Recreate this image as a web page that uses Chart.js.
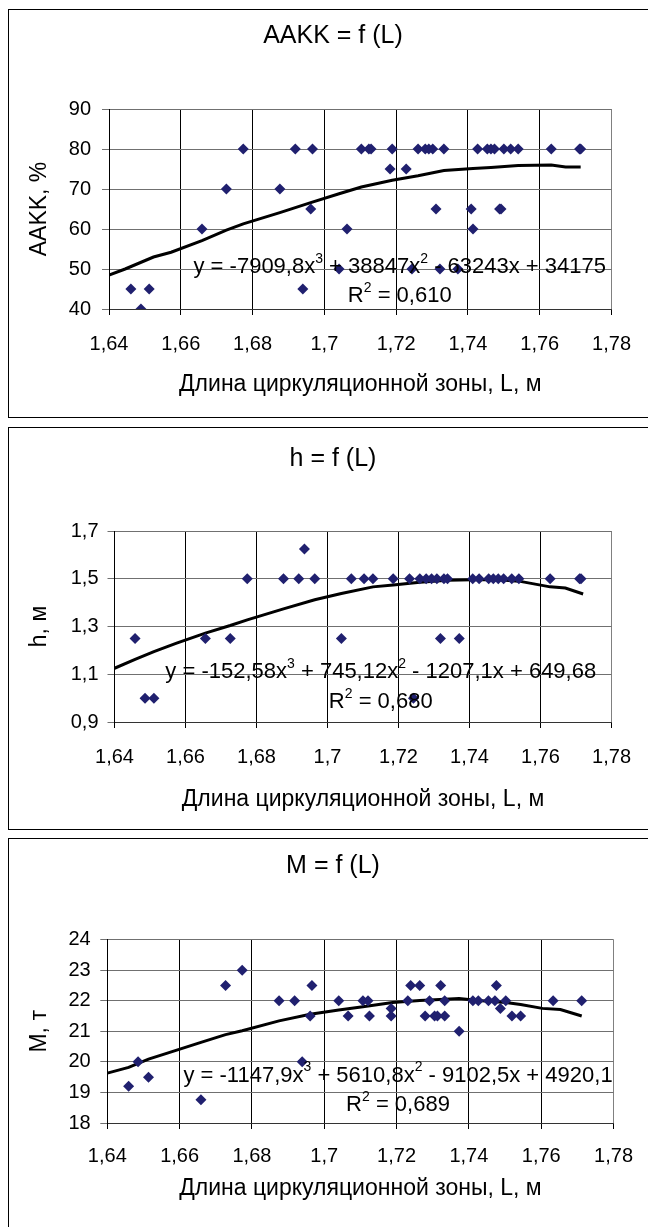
<!DOCTYPE html>
<html><head><meta charset="utf-8">
<script src="https://cdn.jsdelivr.net/npm/chart.js@4.4.1/dist/chart.umd.min.js"></script>
<style>
html,body{margin:0;padding:0;background:#fff;overflow:hidden;width:648px;height:1227px;}
.box{position:absolute;left:8px;width:700px;border:1.5px solid #000;box-sizing:border-box;background:#fff;}
canvas{position:absolute;left:0;}
</style></head><body>
<div class="box" style="top:9px;height:409px"></div>
<div class="box" style="top:427px;height:403px"></div>
<div class="box" style="top:838px;height:420px"></div>
<canvas id="c1" width="648" height="409" style="top:9px;width:648px;height:409px"></canvas>
<canvas id="c2" width="648" height="403" style="top:427px;width:648px;height:403px"></canvas>
<canvas id="c3" width="648" height="389" style="top:838px;width:648px;height:389px"></canvas>
<script>
// ---------- DATA ----------
const xTickValues = [1.64, 1.66, 1.68, 1.70, 1.72, 1.74, 1.76, 1.78];
const xTickLabels = ['1,64', '1,66', '1,68', '1,7', '1,72', '1,74', '1,76', '1,78'];

const aakkTickValues = [40, 50, 60, 70, 80, 90];
const aakkTickLabels = ['40', '50', '60', '70', '80', '90'];
const hTickValues = [0.9, 1.1, 1.3, 1.5, 1.7];
const hTickLabels = ['0,9', '1,1', '1,3', '1,5', '1,7'];
const mTickValues = [18, 19, 20, 21, 22, 23, 24];
const mTickLabels = ['18', '19', '20', '21', '22', '23', '24'];

const aakkL = [1.6461, 1.6489, 1.6512, 1.6659, 1.6727, 1.6774, 1.6876, 1.6919, 1.6940, 1.6962, 1.6967, 1.7041, 1.7063, 1.7103, 1.7124, 1.7130, 1.7183, 1.7189, 1.7228, 1.7244, 1.7261, 1.7281, 1.7291, 1.7302, 1.7311, 1.7322, 1.7333, 1.7372, 1.7409, 1.7414, 1.7427, 1.7454, 1.7464, 1.7474, 1.7488, 1.7492, 1.7500, 1.7519, 1.7540, 1.7632, 1.7711, 1.7714];
const aakkValues = [45, 40, 45, 60, 70, 80, 70, 80, 45, 65, 80, 50, 60, 80, 80, 80, 75, 80, 75, 50, 80, 80, 80, 80, 65, 50, 80, 50, 65, 60, 80, 80, 80, 80, 65, 65, 80, 80, 80, 80, 80, 80];
const aakkTrendL = [1.64, 1.6445, 1.6524, 1.6573, 1.6659, 1.6727, 1.6774, 1.6876, 1.6962, 1.7041, 1.7103, 1.7189, 1.7261, 1.7333, 1.7414, 1.7464, 1.7540, 1.7632, 1.7672, 1.7714];
const aakkTrend = [48.5, 50.0, 53.0, 54.2, 57.1, 59.7, 61.3, 64.1, 66.6, 68.8, 70.5, 72.2, 73.3, 74.6, 75.1, 75.4, 75.9, 76.0, 75.5, 75.5];

const hL = [1.6458, 1.6486, 1.6511, 1.6656, 1.6726, 1.6774, 1.6876, 1.6919, 1.6935, 1.6964, 1.7039, 1.7067, 1.7103, 1.7128, 1.7185, 1.7231, 1.7242, 1.7260, 1.7278, 1.7293, 1.7308, 1.7318, 1.7328, 1.7338, 1.7371, 1.7409, 1.7427, 1.7454, 1.7467, 1.7481, 1.7496, 1.7519, 1.7539, 1.7627, 1.7710, 1.7714];
const hValues = [1.25, 1.0, 1.0, 1.25, 1.25, 1.5, 1.5, 1.5, 1.625, 1.5, 1.25, 1.5, 1.5, 1.5, 1.5, 1.5, 1.0, 1.5, 1.5, 1.5, 1.5, 1.25, 1.5, 1.5, 1.25, 1.5, 1.5, 1.5, 1.5, 1.5, 1.5, 1.5, 1.5, 1.5, 1.5, 1.5];
const hTrendL = [1.64, 1.6458, 1.6511, 1.6575, 1.6656, 1.6726, 1.6774, 1.6876, 1.6964, 1.7039, 1.7128, 1.7185, 1.7260, 1.7338, 1.7409, 1.7481, 1.7539, 1.7627, 1.7670, 1.7720];
const hTrend = [1.125, 1.162, 1.195, 1.230, 1.272, 1.304, 1.328, 1.374, 1.412, 1.438, 1.466, 1.474, 1.485, 1.494, 1.496, 1.496, 1.490, 1.466, 1.461, 1.436];

const mL = [1.6459, 1.6485, 1.6514, 1.6659, 1.6727, 1.6773, 1.6875, 1.6918, 1.6939, 1.6961, 1.6966, 1.7040, 1.7066, 1.7107, 1.7121, 1.7125, 1.7185, 1.7185, 1.7231, 1.7239, 1.7264, 1.7279, 1.7291, 1.7305, 1.7313, 1.7322, 1.7333, 1.7333, 1.7373, 1.7411, 1.7426, 1.7454, 1.7476, 1.7472, 1.7487, 1.7502, 1.7519, 1.7543, 1.7633, 1.7712];
const mValues = [19.2, 20.0, 19.5, 18.76, 22.5, 23.0, 22.0, 22.0, 20.0, 21.5, 22.5, 22.0, 21.5, 22.0, 22.0, 21.5, 21.5, 21.75, 22.0, 22.5, 22.5, 21.5, 22.0, 21.5, 21.5, 22.5, 21.5, 22.0, 21.0, 22.0, 22.0, 22.0, 22.5, 22.0, 21.75, 22.0, 21.5, 21.5, 22.0, 22.0];
const mTrendL = [1.64, 1.6459, 1.6514, 1.6564, 1.6659, 1.6727, 1.6773, 1.6875, 1.6961, 1.7040, 1.7107, 1.7189, 1.7264, 1.7333, 1.7373, 1.7426, 1.7502, 1.7543, 1.7603, 1.7653, 1.7712];
const mTrend = [19.63, 19.82, 20.09, 20.28, 20.64, 20.89, 21.02, 21.34, 21.56, 21.70, 21.80, 21.94, 22.01, 22.05, 22.07, 22.01, 21.94, 21.88, 21.75, 21.71, 21.50];

// ---------- RENDERING ----------
const FONT = "'Liberation Sans', Arial, sans-serif";
const MARKER = '#20206f';
const PAD_LEFT = 52;

const eqPlugin = {
  id: 'eqText',
  afterDatasetsDraw(chart) {
    const eq = chart.options.plugins.eqText;
    if (!eq) return;
    const ctx = chart.ctx;
    const xs = chart.scales.x, ys = chart.scales.y;
    const drawLine = (parts, cx, cy) => {
      const main = '22px ' + FONT, sup = '14px ' + FONT;
      let w = 0;
      parts.forEach(p => { ctx.font = p.sup ? sup : main; w += ctx.measureText(p.t).width; });
      let x = xs.getPixelForValue(cx) - w / 2;
      const y = ys.getPixelForValue(cy);
      ctx.save();
      ctx.fillStyle = '#000';
      ctx.textBaseline = 'middle';
      ctx.textAlign = 'left';
      parts.forEach(p => {
        ctx.font = p.sup ? sup : main;
        ctx.fillText(p.t, x, p.sup ? y - 8 : y);
        x += ctx.measureText(p.t).width;
      });
      ctx.restore();
    };
    drawLine(eq.line1, eq.cx, eq.y1);
    drawLine(eq.line2, eq.cx, eq.y2);
  }
};

function makeChart(id, o) {
  const pts = o.xs.map((x, i) => ({x: x, y: o.ys[i]}));
  const trend = o.tx.map((x, i) => ({x: x, y: o.ty[i]}));
  const tlh = 25 * 1.2;
  const alh = 23 * 1.2;
  return new Chart(document.getElementById(id), {
    type: 'scatter',
    data: {
      datasets: [
        {data: trend, type: 'line', borderColor: '#000', borderWidth: 3, pointRadius: 0, tension: 0, fill: false, order: 1},
        {data: pts, pointStyle: 'rectRot', pointRadius: 5.5, pointHoverRadius: 5.5, backgroundColor: MARKER, borderColor: MARKER, borderWidth: 0, order: 0}
      ]
    },
    options: {
      responsive: false,
      animation: false,
      events: [],
      layout: {padding: {left: PAD_LEFT, right: 34, top: 0, bottom: 0}},
      plugins: {
        legend: {display: false},
        tooltip: {enabled: false},
        title: {display: true, text: o.title, color: '#000',
          font: {family: FONT, size: 25, weight: 'normal', lineHeight: 1.2},
          padding: {top: o.titleC - tlh / 2, bottom: o.plotTop - o.titleC - tlh / 2}},
        eqText: o.eq
      },
      scales: {
        x: {
          type: 'linear', min: 1.64, max: 1.78,
          afterBuildTicks: s => { s.ticks = xTickValues.map(v => ({value: v})); },
          afterFit: s => { s.height = o.xAxisH; },
          ticks: {callback: (v, i) => xTickLabels[i], color: '#000', padding: o.xGap - 6, maxRotation: 0, autoSkip: false,
            font: {family: FONT, size: 20, lineHeight: 1.2}},
          grid: {color: c => (c.index === xTickValues.length - 1 ? '#808080' : '#000'), lineWidth: 1, tickLength: 6, tickColor: '#000'},
          border: {color: '#333', width: 1},
          title: {display: true, text: 'Длина циркуляционной зоны, L, м', color: '#000',
            font: {family: FONT, size: 23, lineHeight: 1.2}, padding: {top: 0, bottom: o.xTitlePad}}
        },
        y: {
          type: 'linear', min: o.yMin, max: o.yMax,
          afterBuildTicks: s => { s.ticks = o.yTicks.map(v => ({value: v})); },
          afterFit: s => { s.width = o.axisLeft - PAD_LEFT; },
          ticks: {callback: (v, i) => o.yLabels[i], color: '#000', padding: o.yGap - 7,
            font: {family: FONT, size: 20, lineHeight: 1.2}},
          grid: {color: '#707070', lineWidth: 1, tickLength: 7},
          border: {color: '#000', width: 1},
          title: {display: true, text: o.yTitle, color: '#000',
            font: {family: FONT, size: 23, lineHeight: 1.2}, padding: {top: 40 - PAD_LEFT - alh / 2, bottom: 0}}
        }
      }
    },
    plugins: [eqPlugin]
  });
}

makeChart('c1', {
  title: 'AAKK = f (L)', yTitle: 'AAKK, %',
  xs: aakkL, ys: aakkValues, tx: aakkTrendL, ty: aakkTrend,
  yMin: 40, yMax: 90, yTicks: aakkTickValues, yLabels: aakkTickLabels,
  titleC: 27, plotTop: 100, xAxisH: 109, xGap: 23, xTitlePad: 20, axisLeft: 109, yGap: 18,
  eq: {cx: 1.721, y1: 50.5, y2: 43.3,
    line1: [{t: 'y = -7909,8x'}, {t: '3', sup: true}, {t: ' + 38847x'}, {t: '2', sup: true}, {t: ' - 63243x + 34175'}],
    line2: [{t: 'R'}, {t: '2', sup: true}, {t: ' = 0,610'}]}
});

makeChart('c2', {
  title: 'h = f (L)', yTitle: 'h, м',
  xs: hL, ys: hValues, tx: hTrendL, ty: hTrend,
  yMin: 0.9, yMax: 1.7, yTicks: hTickValues, yLabels: hTickLabels,
  titleC: 32, plotTop: 104, xAxisH: 108, xGap: 23, xTitlePad: 17, axisLeft: 114.5, yGap: 16,
  eq: {cx: 1.715, y1: 1.1105, y2: 0.984,
    line1: [{t: 'y = -152,58x'}, {t: '3', sup: true}, {t: ' + 745,12x'}, {t: '2', sup: true}, {t: ' - 1207,1x + 649,68'}],
    line2: [{t: 'R'}, {t: '2', sup: true}, {t: ' = 0,680'}]}
});

makeChart('c3', {
  title: 'M = f (L)', yTitle: 'M, т',
  xs: mL, ys: mValues, tx: mTrendL, ty: mTrend,
  yMin: 18, yMax: 24, yTicks: mTickValues, yLabels: mTickLabels,
  titleC: 28, plotTop: 101.6, xAxisH: 104, xGap: 21, xTitlePad: 25, axisLeft: 107.3, yGap: 16.6,
  eq: {cx: 1.7204, y1: 19.55, y2: 18.58,
    line1: [{t: 'y = -1147,9x'}, {t: '3', sup: true}, {t: ' + 5610,8x'}, {t: '2', sup: true}, {t: ' - 9102,5x + 4920,1'}],
    line2: [{t: 'R'}, {t: '2', sup: true}, {t: ' = 0,689'}]}
});
</script>
</body></html>
